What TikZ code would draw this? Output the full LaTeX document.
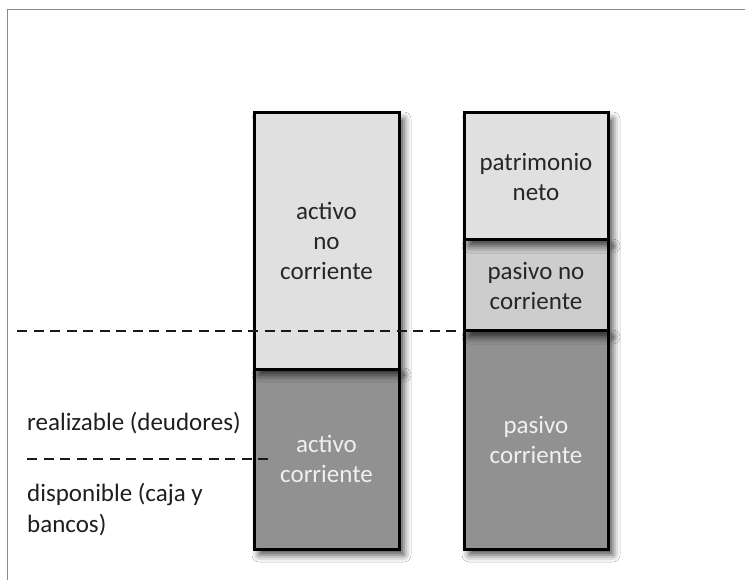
\documentclass[tikz,border=0pt]{standalone}
\usepackage{fontspec}
\setmainfont{Carlito}
\usetikzlibrary{shadows.blur}
\definecolor{lightfill}{HTML}{E0E0E0}
\definecolor{midfill}{HTML}{CDCDCD}
\definecolor{darkfill}{HTML}{919191}
\definecolor{frameline}{HTML}{8A8A8A}
\begin{document}
\begin{tikzpicture}[x=1pt,y=-1pt,
  blk/.style={draw=black, line width=3pt, anchor=north west, inner sep=0pt, outer sep=0pt,
    align=center, font=\fontsize{25}{30}\selectfont,
    blur shadow={shadow xshift=5pt, shadow yshift=-6pt, shadow blur radius=7pt, shadow opacity=70}},
  lt/.style={blk, fill=lightfill, text=black!85},
  md/.style={blk, fill=midfill, text=black!85},
  dk/.style={blk, fill=darkfill, text=white!94!black},
  dashline/.style={draw=black!90, line width=2pt, dash pattern=on 10pt off 6.5pt},
  lbl/.style={anchor=base west, inner sep=0pt, align=left, text=black!88,
    font=\fontsize{25}{31}\selectfont}]
\useasboundingbox (0,0) rectangle (745,580);
\fill[white] (0,0) rectangle (745,580);
\draw[frameline, line width=1.5pt] (7.5,580) -- (7.5,9.5) -- (745,9.5);
% bottom boxes first so upper-box shadows fall on them
\node[dk, minimum width=145pt, minimum height=180pt] (ac) at (254,369) {activo\\corriente};
\node[dk, minimum width=144pt, minimum height=218pt] (pc) at (464,331) {pasivo\\corriente};
\node[lt, minimum width=145pt, minimum height=256pt] (anc) at (254,113) {activo\\no\\corriente};
\node[md, minimum width=144pt, minimum height=91pt] (pnc) at (464,240) {pasivo no\\corriente};
\node[lt, minimum width=144pt, minimum height=127pt] (pn) at (464,113) {patrimonio\\neto};
% dashed lines
\coordinate (d1) at (17,331);
\coordinate (d2a) at (27,459);
\coordinate (d2b) at (272,459);
\draw[dashline] (d1) -- (pnc.south west);
\draw[dashline] (d2a) -- (d2b);
% labels
\node[lbl] (real) at (27,430) {realizable (deudores)};
\node[lbl] (disp) at (27,532) {disponible (caja y\\bancos)};
\end{tikzpicture}
\end{document}
